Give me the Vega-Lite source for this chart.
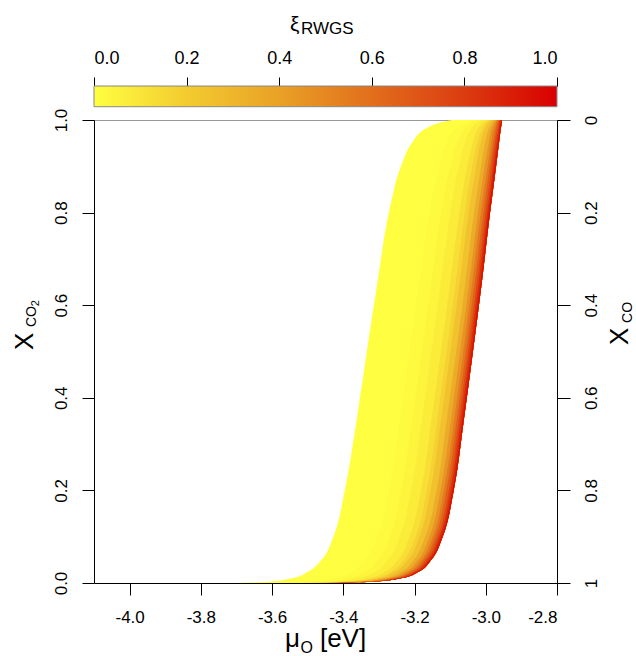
{
  "$schema": "https://vega.github.io/schema/vega-lite/v6.json",
  "autosize": "none",
  "width": 463,
  "height": 463,
  "padding": {"left": 94, "top": 120, "right": 79, "bottom": 73},
  "background": "white",
  "config": {
    "font": "Liberation Sans",
    "view": {"stroke": "#999999"},
    "locale": {"number": {"decimal": ".", "thousands": ",", "grouping": [3], "currency": ["$", ""], "minus": "-"}},
    "axis": {"grid": false, "labelColor": "black", "tickColor": "black", "domainColor": "black", "labelFont": "Liberation Sans", "title": null}
  },
  "layer": [
    {
      "layer": [
        {
          "layer": [
            {
              "data": {"values": [
                {"c":0.005,"y":0,"x":-3.700},{"c":0.005,"y":0.003,"x":-3.603},{"c":0.005,"y":0.01,"x":-3.545},{"c":0.005,"y":0.025,"x":-3.498},{"c":0.005,"y":0.05,"x":-3.461},{"c":0.005,"y":0.1,"x":-3.428},{"c":0.005,"y":0.2,"x":-3.396},{"c":0.005,"y":0.35,"x":-3.363},{"c":0.005,"y":0.5,"x":-3.334},{"c":0.005,"y":0.65,"x":-3.304},{"c":0.005,"y":0.8,"x":-3.272},{"c":0.005,"y":0.9,"x":-3.238},{"c":0.005,"y":0.95,"x":-3.208},{"c":0.005,"y":0.98,"x":-3.172},{"c":0.005,"y":0.99,"x":-3.147},{"c":0.005,"y":0.997,"x":-3.115},{"c":0.005,"y":1,"x":-3.095},
                {"c":0.0175,"y":0,"x":-3.580},{"c":0.0175,"y":0.003,"x":-3.484},{"c":0.0175,"y":0.01,"x":-3.422},{"c":0.0175,"y":0.025,"x":-3.373},{"c":0.0175,"y":0.05,"x":-3.338},{"c":0.0175,"y":0.1,"x":-3.305},{"c":0.0175,"y":0.2,"x":-3.273},{"c":0.0175,"y":0.35,"x":-3.242},{"c":0.0175,"y":0.5,"x":-3.215},{"c":0.0175,"y":0.65,"x":-3.187},{"c":0.0175,"y":0.8,"x":-3.158},{"c":0.0175,"y":0.9,"x":-3.131},{"c":0.0175,"y":0.95,"x":-3.110},{"c":0.0175,"y":0.98,"x":-3.086},{"c":0.0175,"y":0.99,"x":-3.070},{"c":0.0175,"y":0.997,"x":-3.051},{"c":0.0175,"y":1,"x":-3.039},
                {"c":0.0375,"y":0,"x":-3.545},{"c":0.0375,"y":0.003,"x":-3.449},{"c":0.0375,"y":0.01,"x":-3.386},{"c":0.0375,"y":0.025,"x":-3.337},{"c":0.0375,"y":0.05,"x":-3.302},{"c":0.0375,"y":0.1,"x":-3.269},{"c":0.0375,"y":0.2,"x":-3.238},{"c":0.0375,"y":0.35,"x":-3.207},{"c":0.0375,"y":0.5,"x":-3.180},{"c":0.0375,"y":0.65,"x":-3.153},{"c":0.0375,"y":0.8,"x":-3.125},{"c":0.0375,"y":0.9,"x":-3.100},{"c":0.0375,"y":0.95,"x":-3.081},{"c":0.0375,"y":0.98,"x":-3.061},{"c":0.0375,"y":0.99,"x":-3.048},{"c":0.0375,"y":0.997,"x":-3.032},{"c":0.0375,"y":1,"x":-3.022},
                {"c":0.075,"y":0,"x":-3.518},{"c":0.075,"y":0.003,"x":-3.422},{"c":0.075,"y":0.01,"x":-3.359},{"c":0.075,"y":0.025,"x":-3.309},{"c":0.075,"y":0.05,"x":-3.274},{"c":0.075,"y":0.1,"x":-3.242},{"c":0.075,"y":0.2,"x":-3.210},{"c":0.075,"y":0.35,"x":-3.180},{"c":0.075,"y":0.5,"x":-3.153},{"c":0.075,"y":0.65,"x":-3.126},{"c":0.075,"y":0.8,"x":-3.100},{"c":0.075,"y":0.9,"x":-3.076},{"c":0.075,"y":0.95,"x":-3.059},{"c":0.075,"y":0.98,"x":-3.042},{"c":0.075,"y":0.99,"x":-3.031},{"c":0.075,"y":0.997,"x":-3.018},{"c":0.075,"y":1,"x":-3.009},
                {"c":0.125,"y":0,"x":-3.491},{"c":0.125,"y":0.003,"x":-3.395},{"c":0.125,"y":0.01,"x":-3.331},{"c":0.125,"y":0.025,"x":-3.281},{"c":0.125,"y":0.05,"x":-3.246},{"c":0.125,"y":0.1,"x":-3.214},{"c":0.125,"y":0.2,"x":-3.182},{"c":0.125,"y":0.35,"x":-3.153},{"c":0.125,"y":0.5,"x":-3.126},{"c":0.125,"y":0.65,"x":-3.100},{"c":0.125,"y":0.8,"x":-3.074},{"c":0.125,"y":0.9,"x":-3.052},{"c":0.125,"y":0.95,"x":-3.037},{"c":0.125,"y":0.98,"x":-3.023},{"c":0.125,"y":0.99,"x":-3.014},{"c":0.125,"y":0.997,"x":-3.003},{"c":0.125,"y":1,"x":-2.997},
                {"c":0.175,"y":0,"x":-3.475},{"c":0.175,"y":0.003,"x":-3.379},{"c":0.175,"y":0.01,"x":-3.314},{"c":0.175,"y":0.025,"x":-3.264},{"c":0.175,"y":0.05,"x":-3.230},{"c":0.175,"y":0.1,"x":-3.197},{"c":0.175,"y":0.2,"x":-3.166},{"c":0.175,"y":0.35,"x":-3.137},{"c":0.175,"y":0.5,"x":-3.110},{"c":0.175,"y":0.65,"x":-3.084},{"c":0.175,"y":0.8,"x":-3.059},{"c":0.175,"y":0.9,"x":-3.038},{"c":0.175,"y":0.95,"x":-3.024},{"c":0.175,"y":0.98,"x":-3.011},{"c":0.175,"y":0.99,"x":-3.004},{"c":0.175,"y":0.997,"x":-2.995},{"c":0.175,"y":1,"x":-2.989},
                {"c":0.25,"y":0,"x":-3.463},{"c":0.25,"y":0.003,"x":-3.368},{"c":0.25,"y":0.01,"x":-3.303},{"c":0.25,"y":0.025,"x":-3.253},{"c":0.25,"y":0.05,"x":-3.218},{"c":0.25,"y":0.1,"x":-3.186},{"c":0.25,"y":0.2,"x":-3.155},{"c":0.25,"y":0.35,"x":-3.126},{"c":0.25,"y":0.5,"x":-3.099},{"c":0.25,"y":0.65,"x":-3.073},{"c":0.25,"y":0.8,"x":-3.048},{"c":0.25,"y":0.9,"x":-3.027},{"c":0.25,"y":0.95,"x":-3.015},{"c":0.25,"y":0.98,"x":-3.003},{"c":0.25,"y":0.99,"x":-2.996},{"c":0.25,"y":0.997,"x":-2.989},{"c":0.25,"y":1,"x":-2.984},
                {"c":0.35,"y":0,"x":-3.447},{"c":0.35,"y":0.003,"x":-3.352},{"c":0.35,"y":0.01,"x":-3.287},{"c":0.35,"y":0.025,"x":-3.236},{"c":0.35,"y":0.05,"x":-3.202},{"c":0.35,"y":0.1,"x":-3.170},{"c":0.35,"y":0.2,"x":-3.138},{"c":0.35,"y":0.35,"x":-3.110},{"c":0.35,"y":0.5,"x":-3.083},{"c":0.35,"y":0.65,"x":-3.057},{"c":0.35,"y":0.8,"x":-3.033},{"c":0.35,"y":0.9,"x":-3.013},{"c":0.35,"y":0.95,"x":-3.002},{"c":0.35,"y":0.98,"x":-2.992},{"c":0.35,"y":0.99,"x":-2.986},{"c":0.35,"y":0.997,"x":-2.980},{"c":0.35,"y":1,"x":-2.976},
                {"c":0.45,"y":0,"x":-3.436},{"c":0.45,"y":0.003,"x":-3.341},{"c":0.45,"y":0.01,"x":-3.275},{"c":0.45,"y":0.025,"x":-3.224},{"c":0.45,"y":0.05,"x":-3.190},{"c":0.45,"y":0.1,"x":-3.158},{"c":0.45,"y":0.2,"x":-3.127},{"c":0.45,"y":0.35,"x":-3.098},{"c":0.45,"y":0.5,"x":-3.072},{"c":0.45,"y":0.65,"x":-3.046},{"c":0.45,"y":0.8,"x":-3.022},{"c":0.45,"y":0.9,"x":-3.003},{"c":0.45,"y":0.95,"x":-2.992},{"c":0.45,"y":0.98,"x":-2.984},{"c":0.45,"y":0.99,"x":-2.979},{"c":0.45,"y":0.997,"x":-2.974},{"c":0.45,"y":1,"x":-2.971},
                {"c":0.55,"y":0,"x":-3.427},{"c":0.55,"y":0.003,"x":-3.332},{"c":0.55,"y":0.01,"x":-3.266},{"c":0.55,"y":0.025,"x":-3.215},{"c":0.55,"y":0.05,"x":-3.181},{"c":0.55,"y":0.1,"x":-3.149},{"c":0.55,"y":0.2,"x":-3.118},{"c":0.55,"y":0.35,"x":-3.089},{"c":0.55,"y":0.5,"x":-3.063},{"c":0.55,"y":0.65,"x":-3.038},{"c":0.55,"y":0.8,"x":-3.014},{"c":0.55,"y":0.9,"x":-2.995},{"c":0.55,"y":0.95,"x":-2.985},{"c":0.55,"y":0.98,"x":-2.978},{"c":0.55,"y":0.99,"x":-2.973},{"c":0.55,"y":0.997,"x":-2.970},{"c":0.55,"y":1,"x":-2.967},
                {"c":0.65,"y":0,"x":-3.420},{"c":0.65,"y":0.003,"x":-3.325},{"c":0.65,"y":0.01,"x":-3.259},{"c":0.65,"y":0.025,"x":-3.208},{"c":0.65,"y":0.05,"x":-3.174},{"c":0.65,"y":0.1,"x":-3.142},{"c":0.65,"y":0.2,"x":-3.111},{"c":0.65,"y":0.35,"x":-3.082},{"c":0.65,"y":0.5,"x":-3.056},{"c":0.65,"y":0.65,"x":-3.031},{"c":0.65,"y":0.8,"x":-3.007},{"c":0.65,"y":0.9,"x":-2.989},{"c":0.65,"y":0.95,"x":-2.979},{"c":0.65,"y":0.98,"x":-2.972},{"c":0.65,"y":0.99,"x":-2.969},{"c":0.65,"y":0.997,"x":-2.966},{"c":0.65,"y":1,"x":-2.963},
                {"c":0.75,"y":0,"x":-3.414},{"c":0.75,"y":0.003,"x":-3.319},{"c":0.75,"y":0.01,"x":-3.252},{"c":0.75,"y":0.025,"x":-3.202},{"c":0.75,"y":0.05,"x":-3.168},{"c":0.75,"y":0.1,"x":-3.135},{"c":0.75,"y":0.2,"x":-3.104},{"c":0.75,"y":0.35,"x":-3.076},{"c":0.75,"y":0.5,"x":-3.050},{"c":0.75,"y":0.65,"x":-3.025},{"c":0.75,"y":0.8,"x":-3.001},{"c":0.75,"y":0.9,"x":-2.984},{"c":0.75,"y":0.95,"x":-2.975},{"c":0.75,"y":0.98,"x":-2.968},{"c":0.75,"y":0.99,"x":-2.965},{"c":0.75,"y":0.997,"x":-2.963},{"c":0.75,"y":1,"x":-2.961},
                {"c":0.85,"y":0,"x":-3.409},{"c":0.85,"y":0.003,"x":-3.314},{"c":0.85,"y":0.01,"x":-3.247},{"c":0.85,"y":0.025,"x":-3.196},{"c":0.85,"y":0.05,"x":-3.162},{"c":0.85,"y":0.1,"x":-3.130},{"c":0.85,"y":0.2,"x":-3.099},{"c":0.85,"y":0.35,"x":-3.071},{"c":0.85,"y":0.5,"x":-3.045},{"c":0.85,"y":0.65,"x":-3.020},{"c":0.85,"y":0.8,"x":-2.996},{"c":0.85,"y":0.9,"x":-2.979},{"c":0.85,"y":0.95,"x":-2.970},{"c":0.85,"y":0.98,"x":-2.964},{"c":0.85,"y":0.99,"x":-2.962},{"c":0.85,"y":0.997,"x":-2.960},{"c":0.85,"y":1,"x":-2.958},
                {"c":0.95,"y":0,"x":-3.404},{"c":0.95,"y":0.003,"x":-3.309},{"c":0.95,"y":0.01,"x":-3.242},{"c":0.95,"y":0.025,"x":-3.191},{"c":0.95,"y":0.05,"x":-3.157},{"c":0.95,"y":0.1,"x":-3.125},{"c":0.95,"y":0.2,"x":-3.094},{"c":0.95,"y":0.35,"x":-3.066},{"c":0.95,"y":0.5,"x":-3.040},{"c":0.95,"y":0.65,"x":-3.015},{"c":0.95,"y":0.8,"x":-2.992},{"c":0.95,"y":0.9,"x":-2.975},{"c":0.95,"y":0.95,"x":-2.966},{"c":0.95,"y":0.98,"x":-2.961},{"c":0.95,"y":0.99,"x":-2.959},{"c":0.95,"y":0.997,"x":-2.957},{"c":0.95,"y":1,"x":-2.956},
                {"c":1,"y":0,"x":-3.400},{"c":1,"y":0.003,"x":-3.305},{"c":1,"y":0.01,"x":-3.238},{"c":1,"y":0.025,"x":-3.187},{"c":1,"y":0.05,"x":-3.153},{"c":1,"y":0.1,"x":-3.121},{"c":1,"y":0.2,"x":-3.090},{"c":1,"y":0.35,"x":-3.062},{"c":1,"y":0.5,"x":-3.036},{"c":1,"y":0.65,"x":-3.011},{"c":1,"y":0.8,"x":-2.988},{"c":1,"y":0.9,"x":-2.971},{"c":1,"y":0.95,"x":-2.963},{"c":1,"y":0.98,"x":-2.958},{"c":1,"y":0.99,"x":-2.956},{"c":1,"y":0.997,"x":-2.955},{"c":1,"y":1,"x":-2.954}
              ]},
              "transform": [{"joinaggregate": [{"op": "max", "field": "x", "as": "xr"}], "groupby": ["y"]}],
              "mark": {"type": "area", "orient": "horizontal", "interpolate": "monotone"},
              "encoding": {
                "y": {"field": "y", "type": "quantitative", "scale": {"domain": [0, 1], "nice": false, "zero": false},
                      "axis": {"orient": "left", "values": [0, 0.2, 0.4, 0.6, 0.8, 1], "format": ".1f", "labelAngle": 270, "labelAlign": "center", "labelBaseline": "bottom", "tickSize": 12, "labelPadding": 12, "labelFontSize": 17, "title": null}},
                "x": {"field": "x", "type": "quantitative", "stack": null, "scale": {"domain": [-4.1, -2.8], "nice": false, "zero": false},
                      "axis": {"orient": "bottom", "values": [-4, -3.8, -3.6, -3.4, -3.2, -3, -2.8], "format": ".1f", "tickSize": 12, "labelPadding": 14, "labelFontSize": 17, "title": null}},
                "x2": {"field": "xr"},
                "color": {"field": "c", "type": "quantitative", "scale": {"domain": [0, 0.2, 0.4, 0.6, 0.8, 1], "range": ["#FFFF40", "#F3CB30", "#E9A126", "#E26E1C", "#DB3C10", "#D90000"], "interpolate": "rgb"}, "legend": null},
                "detail": {"field": "c", "type": "quantitative"}
              }
            },
            {"data": {"values": [{}]}, "mark": {"type": "text", "text": "ξ", "fontSize": 21, "align": "left", "baseline": "alphabetic", "color": "black"},
             "encoding": {"x": {"datum": -3.5497, "type": "quantitative"}, "y": {"datum": 1.1922, "type": "quantitative"}}},
            {"data": {"values": [{}]}, "mark": {"type": "text", "text": "RWGS", "fontSize": 17, "align": "left", "baseline": "alphabetic", "color": "black"},
             "encoding": {"x": {"datum": -3.5189, "type": "quantitative"}, "y": {"datum": 1.1857, "type": "quantitative"}}},
            {"data": {"values": [{}]}, "mark": {"type": "text", "text": "μ", "fontSize": 26, "align": "left", "baseline": "alphabetic", "color": "black"},
             "encoding": {"x": {"datum": -3.5638, "type": "quantitative"}, "y": {"datum": -0.1374, "type": "quantitative"}}},
            {"data": {"values": [{}]}, "mark": {"type": "text", "text": "O", "fontSize": 16, "align": "left", "baseline": "alphabetic", "color": "black"},
             "encoding": {"x": {"datum": -3.5203, "type": "quantitative"}, "y": {"datum": -0.1512, "type": "quantitative"}}},
            {"data": {"values": [{}]}, "mark": {"type": "text", "text": "[eV]", "fontSize": 26, "align": "left", "baseline": "alphabetic", "color": "black"},
             "encoding": {"x": {"datum": -3.4657, "type": "quantitative"}, "y": {"datum": -0.1374, "type": "quantitative"}}},
            {"data": {"values": [{}]}, "mark": {"type": "text", "text": "X", "fontSize": 26, "angle": 270, "align": "left", "baseline": "alphabetic", "color": "black"},
             "encoding": {"x": {"datum": -4.2713, "type": "quantitative"}, "y": {"datum": 0.5032, "type": "quantitative"}}},
            {"data": {"values": [{}]}, "mark": {"type": "text", "text": "CO", "fontSize": 14, "angle": 270, "align": "left", "baseline": "alphabetic", "color": "black"},
             "encoding": {"x": {"datum": -4.2628, "type": "quantitative"}, "y": {"datum": 0.5529, "type": "quantitative"}}},
            {"data": {"values": [{}]}, "mark": {"type": "text", "text": "2", "fontSize": 11, "angle": 270, "align": "left", "baseline": "alphabetic", "color": "black"},
             "encoding": {"x": {"datum": -4.2544, "type": "quantitative"}, "y": {"datum": 0.598, "type": "quantitative"}}},
            {"data": {"values": [{}]}, "mark": {"type": "text", "text": "X", "fontSize": 26, "angle": 270, "align": "left", "baseline": "alphabetic", "color": "black"},
             "encoding": {"x": {"datum": -2.6009, "type": "quantitative"}, "y": {"datum": 0.514, "type": "quantitative"}}},
            {"data": {"values": [{}]}, "mark": {"type": "text", "text": "CO", "fontSize": 14, "angle": 270, "align": "left", "baseline": "alphabetic", "color": "black"},
             "encoding": {"x": {"datum": -2.589, "type": "quantitative"}, "y": {"datum": 0.5616, "type": "quantitative"}}}
          ]
        },
        {
          "data": {"values": [{}]},
          "mark": {"type": "rect", "stroke": "#888888", "strokeWidth": 1,
                   "fill": {"gradient": "linear", "x1": 0, "x2": 1, "y1": 0, "y2": 0,
                            "stops": [{"offset": 0, "color": "#FFFF40"}, {"offset": 0.2, "color": "#F3CB30"}, {"offset": 0.4, "color": "#E9A126"}, {"offset": 0.6, "color": "#E26E1C"}, {"offset": 0.8, "color": "#DB3C10"}, {"offset": 1, "color": "#D90000"}]}},
          "encoding": {
            "x": {"datum": 0, "type": "quantitative", "scale": {"domain": [0, 1], "nice": false, "zero": false},
                  "axis": {"orient": "top", "values": [0, 0.2, 0.4, 0.6, 0.8, 1], "format": ".1f", "offset": 34, "tickSize": 9, "labelPadding": 10, "labelFontSize": 18, "title": null}},
            "x2": {"datum": 1},
            "y": {"datum": 1.0287, "type": "quantitative"},
            "y2": {"datum": 1.0734}
          }
        }
      ],
      "resolve": {"scale": {"x": "independent"}, "axis": {"x": "independent"}}
    },
    {
      "data": {"values": [{}]},
      "mark": {"type": "rule", "opacity": 0},
      "encoding": {
        "y": {"datum": 0, "type": "quantitative", "scale": {"domain": [0, 1], "reverse": true, "nice": false, "zero": false},
              "axis": {"orient": "right", "values": [0, 0.2, 0.4, 0.6, 0.8, 1], "format": "~g", "labelAngle": 270, "labelAlign": "center", "labelBaseline": "top", "tickSize": 13, "labelPadding": 13, "labelFontSize": 17, "title": null}}
      }
    }
  ],
  "resolve": {"scale": {"y": "independent"}, "axis": {"y": "independent"}}
}
